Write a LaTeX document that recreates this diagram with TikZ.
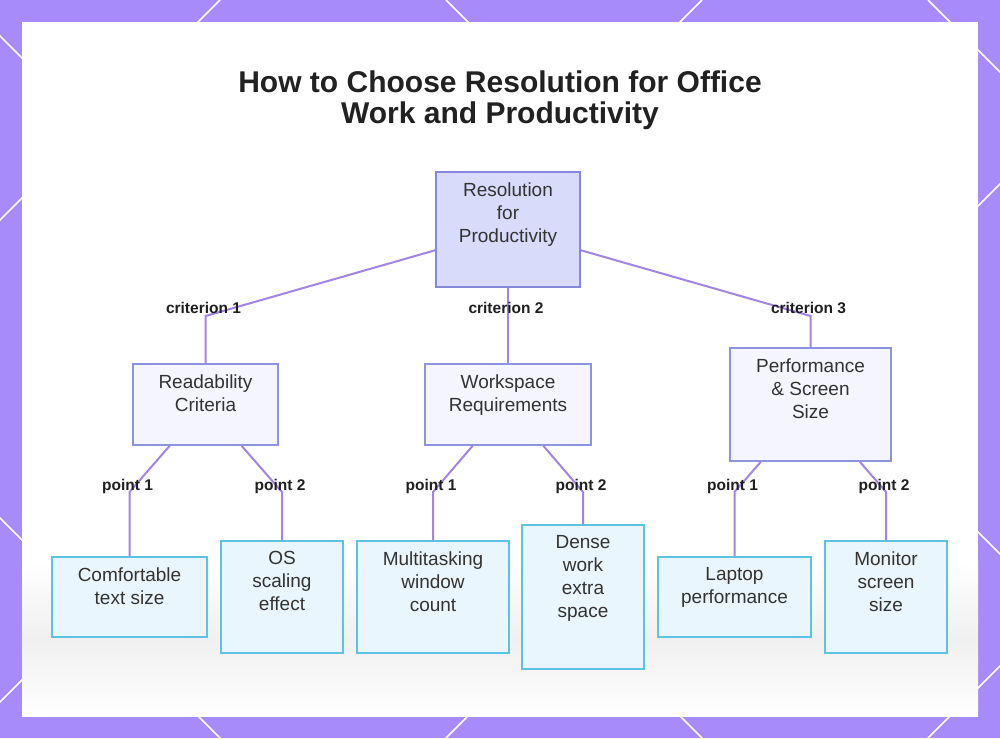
\documentclass[tikz,border=0pt]{standalone}
\usepackage{fontspec}
\setmainfont{Liberation Sans}
\usetikzlibrary{positioning}

\definecolor{frameViolet}{HTML}{A78BFA}
\definecolor{edgeViolet}{HTML}{A284E4}
\definecolor{rootFill}{HTML}{D9DBFB}
\definecolor{rootDraw}{HTML}{8489DE}
\definecolor{critFill}{HTML}{F4F5FE}
\definecolor{critDraw}{HTML}{8C94E0}
\definecolor{leafFill}{HTML}{E9F6FD}
\definecolor{leafDraw}{HTML}{5EC3E2}
\definecolor{inkGray}{HTML}{333333}

\tikzstyle{chartboxes}=[%
	every node/.style = {%
		font=\fontsize{19}{23}\selectfont,
		text=inkGray
	},%
	box/.style={%
		draw,
		line width=1.5pt,
		inner sep=0pt
	},
	rootbox/.style={box, fill=rootFill, draw=rootDraw},
	critbox/.style={box, fill=critFill, draw=critDraw},
	leafbox/.style={box, fill=leafFill, draw=leafDraw},
	boxtext/.style={anchor=north, align=center, inner sep=0pt, yshift=-11pt},
	link/.style={draw=edgeViolet, line width=2pt},
	linklabel/.style={font=\fontsize{15.5}{18}\selectfont\bfseries, text=black!88}
]

\begin{document}
\begin{tikzpicture}[
	x=1pt,
	y=-1pt,
	chartboxes
]
	\useasboundingbox (0,0) rectangle (1000,738);

	% frame with the diagonal lattice
	\fill[frameViolet] (0,0) rectangle (1000,738);
	\begin{scope}
		\clip (0,0) rectangle (1000,738);
		\foreach \k in {0,...,3} {
			\draw[white, line width=1.5pt] (220+482*\k,0) -- ++(-760,760);
			\draw[white, line width=1.5pt] (-518+482*\k,0) -- ++(760,760);
		}
	\end{scope}
	\fill[white] (22,22) rectangle (978,716);
	\shade[top color=white, bottom color=black!6] (22,560) rectangle (978,640);
	\shade[top color=black!6, bottom color=white] (22,640) rectangle (978,716);

	\node[font=\fontsize{30}{31}\selectfont\bfseries, text=black!87, align=center] (title) at (500,100)
		{How to Choose Resolution for Office\\Work and Productivity};

	\node[rootbox, minimum width=144, minimum height=115,
		label={[boxtext]north:Resolution\\for\\Productivity}] (root) at (508,229.5) {};

	\node[critbox, minimum width=145, minimum height=81,
		label={[boxtext]north:Readability\\Criteria}] (read) at (205.5,404.5) {};
	\node[critbox, minimum width=166, minimum height=81,
		label={[boxtext]north:Workspace\\Requirements}] (work) at (508,404.5) {};
	\node[critbox, minimum width=161, minimum height=113,
		label={[boxtext]north:Performance\\\& Screen\\Size}] (perf) at (810.5,404.5) {};

	\node[leafbox, minimum width=155, minimum height=80,
		label={[boxtext]north:Comfortable\\text size}] (comf) at (129.5,597) {};
	\node[leafbox, minimum width=122, minimum height=112,
		label={[boxtext]north:OS\\scaling\\effect}] (scal) at (282,597) {};
	\node[leafbox, minimum width=152, minimum height=112,
		label={[boxtext]north:Multitasking\\window\\count}] (multi) at (433,597) {};
	\node[leafbox, minimum width=122, minimum height=144,
		label={[boxtext]north:Dense\\work\\extra\\space}] (dense) at (583,597) {};
	\node[leafbox, minimum width=153, minimum height=80,
		label={[boxtext]north:Laptop\\performance}] (lapt) at (734.5,597) {};
	\node[leafbox, minimum width=122, minimum height=112,
		label={[boxtext]north:Monitor\\screen\\size}] (moni) at (886,597) {};

	\foreach \parent/\child/\bx/\by/\dy/\txt in {%
		root/read/205.5/316/8/criterion 1,
		root/work/508/316/8/criterion 2,
		root/perf/810.5/316/8/criterion 3,
		read/comf/129.5/492/6/point 1,
		read/scal/282/492/6/point 2,
		work/multi/433/492/6/point 1,
		work/dense/583/492/6/point 2,
		perf/lapt/734.5/492/6/point 1,
		perf/moni/886/492/6/point 2} {
		\coordinate (bend-\child) at (\bx,\by);
		\draw[link] (\parent) -- (bend-\child) -- (\child);
		\node[linklabel] (lbl-\child) at ([xshift=-2pt, yshift=\dy pt]bend-\child) {\txt};
	}
\end{tikzpicture}
\end{document}
